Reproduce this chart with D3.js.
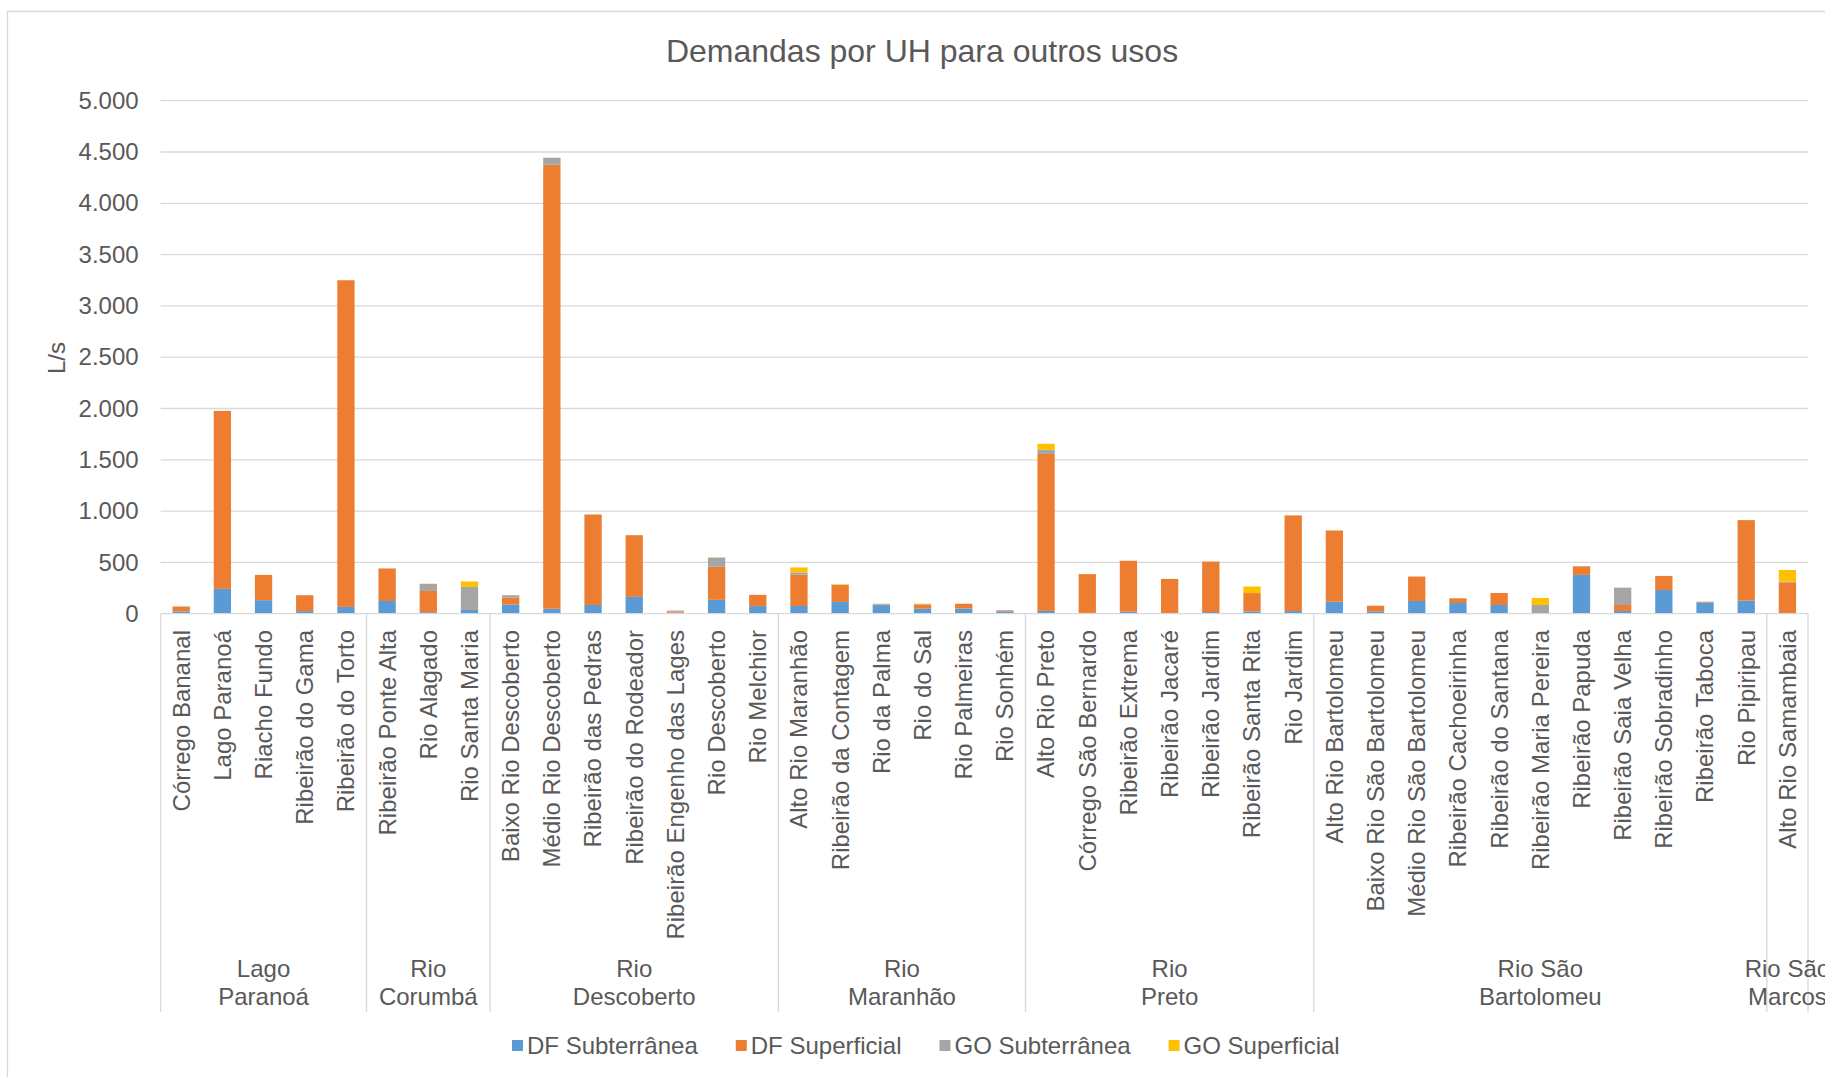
<!DOCTYPE html>
<html>
<head>
<meta charset="utf-8">
<script src="https://cdn.jsdelivr.net/npm/d3@7"></script>
<style>
  html, body { margin: 0; padding: 0; background: #fff; }
  svg { display: block; }
  text { font-family: "Liberation Sans", Arial, sans-serif; fill: #595959; }
</style>
</head>
<body>
<svg id="chart" width="1825" height="1077"></svg>
<script>
const categories = [
  "Córrego Bananal","Lago Paranoá","Riacho Fundo","Ribeirão do Gama","Ribeirão do Torto",
  "Ribeirão Ponte Alta","Rio Alagado","Rio Santa Maria",
  "Baixo Rio Descoberto","Médio Rio Descoberto","Ribeirão das Pedras","Ribeirão do Rodeador","Ribeirão Engenho das Lages","Rio Descoberto","Rio Melchior",
  "Alto Rio Maranhão","Ribeirão da Contagem","Rio da Palma","Rio do Sal","Rio Palmeiras","Rio Sonhém",
  "Alto Rio Preto","Córrego São Bernardo","Ribeirão Extrema","Ribeirão Jacaré","Ribeirão Jardim","Ribeirão Santa Rita","Rio Jardim",
  "Alto Rio Bartolomeu","Baixo Rio São Bartolomeu","Médio Rio São Bartolomeu","Ribeirão Cachoeirinha","Ribeirão do Santana","Ribeirão Maria Pereira","Ribeirão Papuda","Ribeirão Saia Velha","Ribeirão Sobradinho","Ribeirão Taboca","Rio Pipiripau",
  "Alto Rio Samambaia"
];
const basins = [
  "Lago Paranoá","Lago Paranoá","Lago Paranoá","Lago Paranoá","Lago Paranoá",
  "Rio Corumbá","Rio Corumbá","Rio Corumbá",
  "Rio Descoberto","Rio Descoberto","Rio Descoberto","Rio Descoberto","Rio Descoberto","Rio Descoberto","Rio Descoberto",
  "Rio Maranhão","Rio Maranhão","Rio Maranhão","Rio Maranhão","Rio Maranhão","Rio Maranhão",
  "Rio Preto","Rio Preto","Rio Preto","Rio Preto","Rio Preto","Rio Preto","Rio Preto",
  "Rio São Bartolomeu","Rio São Bartolomeu","Rio São Bartolomeu","Rio São Bartolomeu","Rio São Bartolomeu","Rio São Bartolomeu","Rio São Bartolomeu","Rio São Bartolomeu","Rio São Bartolomeu","Rio São Bartolomeu","Rio São Bartolomeu",
  "Rio São Marcos"
];
const dfSub = [22,242,132,25,66, 124,15,43, 90,48,85,164,10,135,74, 75,115,84,48,50,23, 27,8,20,2,16,23,26, 117,23,124,104,85,0,378,26,231,110,127, 0];
const dfSup = [48,1735,246,155,3184, 317,207,3, 68,4328,882,601,12,322,110, 304,168,5,37,47,8, 1530,378,496,337,492,178,932, 694,55,238,46,117,0,84,59,137,7,785, 306];
const goSub = [0,0,0,0,0, 0,68,215, 22,68,0,0,9,88,0, 24,0,8,7,0,5, 40,0,0,0,0,0,0, 0,0,0,0,0,85,0,169,0,0,0, 8];
const goSup = [0,0,0,0,0, 0,3,53, 0,0,0,0,0,4,0, 48,3,0,6,0,0, 59,0,0,0,0,64,0, 0,0,0,0,0,68,0,0,0,0,0, 112];
const seriesNames = ["DF Subterrânea","DF Superficial","GO Subterrânea","GO Superficial"];
const seriesColors = ["#5B9BD5","#ED7D31","#A5A5A5","#FFC000"];
const yTicks = [0,500,1000,1500,2000,2500,3000,3500,4000,4500,5000];
const titleText = "Demandas por UH para outros usos";
const yTitle = "L/s";

(function () {
const svg = d3.select("#chart");
const W = 1825, H = 1077;
const pLeft = 160.6, pRight = 1808, pTop = 100.7, pBottom = 613.7;
const gridColor = "#D9D9D9";
const fs = "24px";

// chart border
svg.append("path").attr("d", `M7.5,${H} V11.5 H${W}`).attr("fill","none").attr("stroke",gridColor).attr("stroke-width",1.3);

const x = d3.scaleBand().domain(categories).range([pLeft, pRight]).paddingInner(0.58).paddingOuter(0.29);
const y = d3.scaleLinear().domain([0, 5000]).range([pBottom, pTop]);
const loc = d3.formatLocale({decimal: ",", thousands: ".", grouping: [3], currency: ["R$",""]});
const fmt = loc.format(",d");

// gridlines
svg.append("g").selectAll("line").data(yTicks.filter(d => d > 0)).join("line")
  .attr("x1", pLeft).attr("x2", pRight)
  .attr("y1", d => y(d)).attr("y2", d => y(d))
  .attr("stroke", gridColor).attr("stroke-width", 1.3);

// y axis labels
const yAxis = d3.axisLeft(y).tickValues(yTicks).tickFormat(fmt).tickSize(0).tickPadding(22);
const yg = svg.append("g").attr("transform", `translate(${pLeft},0)`).call(yAxis);
yg.select(".domain").remove();
yg.selectAll("text").style("font-size",fs).attr("fill","#595959").attr("font-family","Liberation Sans, Arial, sans-serif");

// stacked bars
const rows = categories.map((c, i) => ({cat: c, s0: dfSub[i], s1: dfSup[i], s2: goSub[i], s3: goSup[i]}));
const stack = d3.stack().keys(["s0","s1","s2","s3"]);
const layers = stack(rows);
svg.append("g").selectAll("g").data(layers).join("g")
  .attr("fill", (d, i) => seriesColors[i])
  .selectAll("rect").data(d => d).join("rect")
  .attr("x", d => x(d.data.cat))
  .attr("width", x.bandwidth())
  .attr("y", d => y(d[1]))
  .attr("height", d => Math.max(0, y(d[0]) - y(d[1])));

// x axis baseline
svg.append("line").attr("x1", pLeft).attr("x2", pRight).attr("y1", pBottom).attr("y2", pBottom)
  .attr("stroke", gridColor).attr("stroke-width", 1.3);

// group structure
const groups = [];
basins.forEach((b, i) => {
  if (!groups.length || groups[groups.length-1].name !== b) groups.push({name: b, first: i, last: i});
  else groups[groups.length-1].last = i;
});
const step = x.step();
const bandStart = i => x(categories[i]) - x.paddingInner() * step / 2;
const bandEnd = i => bandStart(i) + step;
const sepBottom = 1012;
const seps = [bandStart(0)].concat(groups.map(g => bandEnd(g.last)));
svg.append("g").selectAll("line").data(seps).join("line")
  .attr("x1", d => d).attr("x2", d => d).attr("y1", pBottom).attr("y2", sepBottom)
  .attr("stroke", gridColor).attr("stroke-width", 1.3);

// category labels
svg.append("g").selectAll("text").data(categories).join("text")
  .attr("transform", d => `translate(${x(d) + x.bandwidth()/2},630) rotate(-90)`)
  .attr("text-anchor", "end").attr("dy", "0.35em")
  .style("font-size", fs)
  .text(d => d);

// group labels
const gl = svg.append("g").selectAll("text").data(groups).join("text")
  .attr("text-anchor", "middle")
  .style("font-size", fs);
gl.each(function(g) {
  const k = g.name.lastIndexOf(" ");
  const parts = [g.name.slice(0, k), g.name.slice(k + 1)];
  const t = d3.select(this);
  const cx = (bandStart(g.first) + bandEnd(g.last)) / 2;
  parts.forEach((p, j) => t.append("tspan").attr("x", cx).attr("y", 977 + j * 28).text(p));
});

// title
svg.append("text").attr("x", 922).attr("y", 62).attr("text-anchor","middle")
  .style("font-size","32px").text(titleText);

// y title
svg.append("text").attr("transform","translate(57,358) rotate(-90)").attr("text-anchor","middle")
  .attr("dy","0.35em").style("font-size",fs).text(yTitle);

// legend
const leg = svg.append("g");
let lx = 512;
seriesNames.forEach((n, i) => {
  leg.append("rect").attr("x", lx).attr("y", 1040).attr("width", 11).attr("height", 11).attr("fill", seriesColors[i]);
  const t = leg.append("text").attr("x", lx + 15).attr("y", 1053.5).style("font-size",fs).text(n);
  lx += 15 + t.node().getComputedTextLength() + 38;
});
})();
</script>
</body>
</html>
